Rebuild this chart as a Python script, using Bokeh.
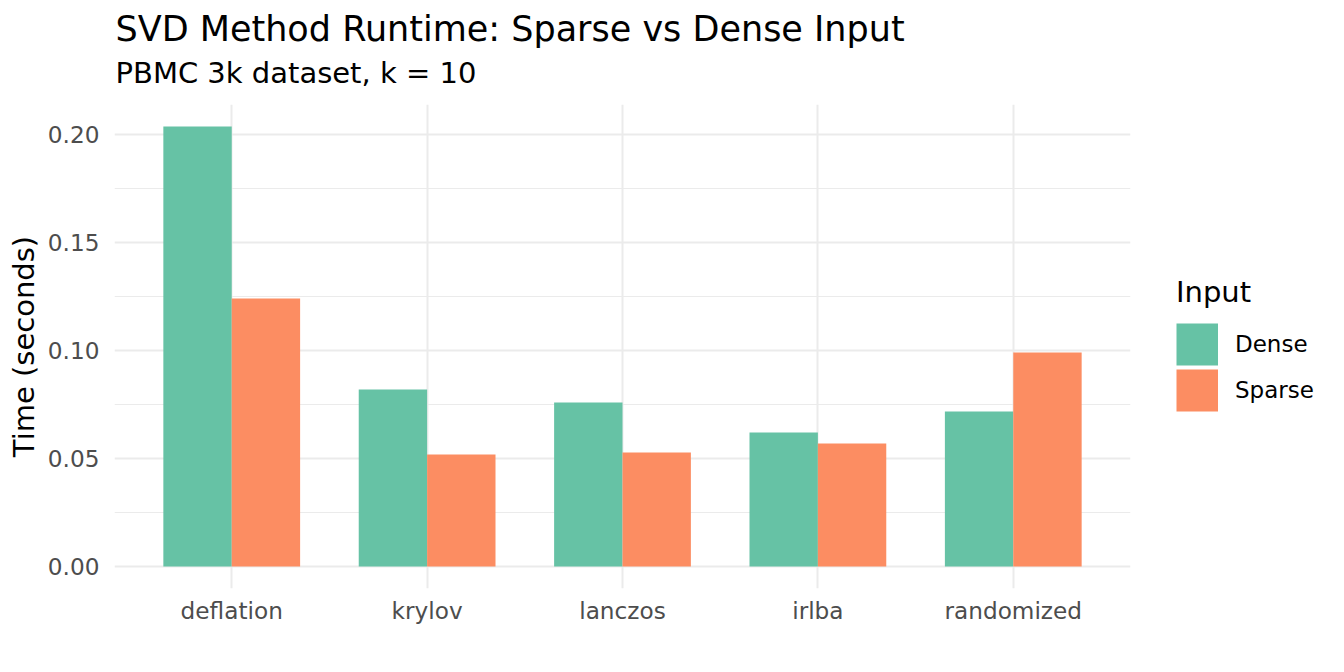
from bokeh.plotting import figure
from bokeh.models import (ColumnDataSource, FactorRange, Range1d, FixedTicker, PrintfTickFormatter,
                          Legend, LegendItem, Title)
from bokeh.transform import dodge
from bokeh.embed import file_html
from bokeh.resources import INLINE

methods = ["deflation", "krylov", "lanczos", "irlba", "randomized"]
dense = [0.2037, 0.0819, 0.0759, 0.0620, 0.0718]
sparse = [0.1241, 0.0519, 0.0528, 0.0569, 0.0991]
series = ["Dense", "Sparse"]
colors = ["#66C2A5", "#FC8D62"]
y_ticks = [0.0, 0.05, 0.10, 0.15, 0.20]
y_minor = [0.025, 0.075, 0.125, 0.175]

FONT = "DejaVu Sans"

src = ColumnDataSource(dict(method=methods, Dense=dense, Sparse=sparse))

ymax = max(dense + sparse)
pad = 0.05 * ymax

p = figure(frame_width=1016, frame_height=484, output_backend="svg", toolbar_location=None,
           x_range=FactorRange(factors=methods, range_padding=0.04, range_padding_units="percent"),
           y_range=Range1d(-pad, ymax + pad),
           min_border_left=114, min_border_right=0, min_border_top=104, min_border_bottom=84)
p.outline_line_color = None
p.background_fill_color = "white"
p.border_fill_color = "white"

r1 = p.vbar(x=dodge("method", -0.175, range=p.x_range), top="Dense", width=0.35, source=src,
            fill_color=colors[0], line_color=None)
r2 = p.vbar(x=dodge("method", 0.175, range=p.x_range), top="Sparse", width=0.35, source=src,
            fill_color=colors[1], line_color=None)

# hidden legend-key proxies (thick butt-capped lines draw solid square keys)
k1 = p.line(x=dodge("method", -0.175, range=p.x_range), y="Dense", source=src,
            line_color=colors[0], line_width=42, line_cap="butt", visible=False)
k2 = p.line(x=dodge("method", 0.175, range=p.x_range), y="Sparse", source=src,
            line_color=colors[1], line_width=42, line_cap="butt", visible=False)

# grids
p.xgrid.grid_line_color = "#EBEBEB"
p.xgrid.grid_line_width = 2
p.ygrid.grid_line_color = "#EBEBEB"
p.ygrid.grid_line_width = 2
p.ygrid.minor_grid_line_color = "#EBEBEB"
p.ygrid.minor_grid_line_width = 1.2
p.yaxis.ticker = FixedTicker(ticks=y_ticks, minor_ticks=y_minor)
p.ygrid.ticker = FixedTicker(ticks=y_ticks, minor_ticks=y_minor)
p.yaxis.formatter = PrintfTickFormatter(format="%.2f")

for ax in (p.xaxis, p.yaxis):
    ax.axis_line_color = None
    ax.major_tick_line_color = None
    ax.minor_tick_line_color = None
    ax.major_tick_out = 0
    ax.minor_tick_out = 0
    ax.major_label_text_font = FONT
    ax.major_label_text_font_size = "23.2px"
    ax.major_label_text_color = "#4D4D4D"

p.xaxis.major_label_standoff = 8
p.yaxis.major_label_standoff = 15
p.yaxis.axis_label = "Time (seconds)"
p.yaxis.axis_label_text_font = FONT
p.yaxis.axis_label_text_font_size = "29px"
p.yaxis.axis_label_text_font_style = "normal"
p.yaxis.axis_label_text_color = "black"
p.yaxis.axis_label_standoff = 4

# titles, stacked outward from the plot: spacer, subtitle, title
p.add_layout(Title(text=" ", align="left", offset=1, text_font=FONT, text_font_size="8px",
                   standoff=2), "above")
p.add_layout(Title(text="PBMC 3k dataset, k = 10", align="left", offset=1,
                   text_font=FONT, text_font_size="29px", text_color="black",
                   text_font_style="normal", standoff=4), "above")
p.add_layout(Title(text="SVD Method Runtime: Sparse vs Dense Input", align="left", offset=1,
                   text_font=FONT, text_font_size="35px", text_color="black",
                   text_font_style="normal", standoff=4.5), "above")

legend = Legend(items=[LegendItem(label=series[0], renderers=[k1]),
                       LegendItem(label=series[1], renderers=[k2])],
                location=(46, 175), title="Input",
                title_text_font=FONT, title_text_font_size="29px", title_text_color="black",
                title_text_font_style="normal", title_standoff=12,
                label_text_font=FONT, label_text_font_size="23px", label_text_color="black",
                glyph_width=42, glyph_height=46, spacing=0, label_standoff=17,
                padding=0, margin=0, border_line_color=None, background_fill_alpha=0,
                inactive_fill_alpha=0)
p.add_layout(legend, "right")

open("out.html", "w").write(file_html(p, INLINE))
